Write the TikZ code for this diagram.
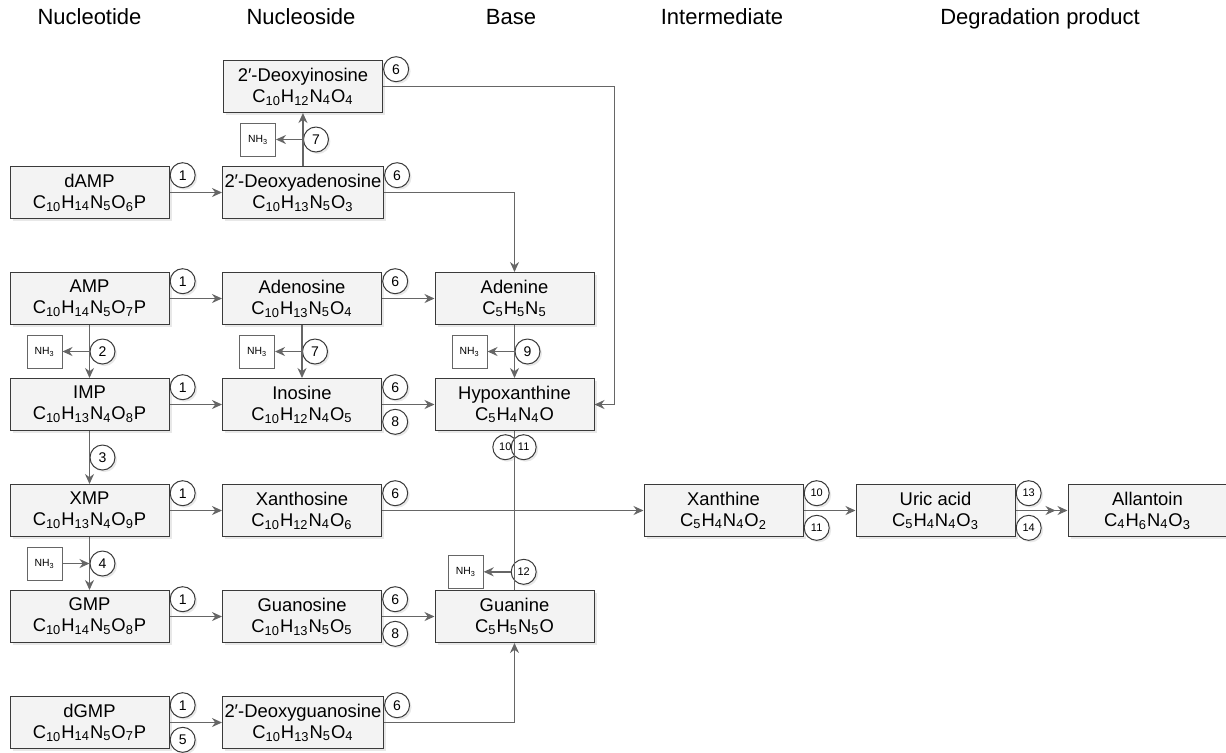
\documentclass[tikz,border=0pt]{standalone}
\usepackage{amsmath}
\usepackage{fontspec}
\setmainfont{Liberation Sans}
\usepackage{tikz}
\usetikzlibrary{arrows.meta,positioning,shadows,calc}
\definecolor{linegray}{HTML}{666666}
\definecolor{boxline}{HTML}{3A3A3A}
\definecolor{boxfill}{HTML}{F3F3F3}
\definecolor{shadegray}{HTML}{D2D2D2}
\newcommand{\sbs}[1]{\ensuremath{_{\text{#1}}}}
\tikzset{
    cmpd/.style={rectangle, draw=boxline, line width=0.5pt, fill=boxfill,
        minimum width=79.5pt, minimum height=26pt, inner sep=1pt, align=center,
        font=\fontsize{9.2}{10.5}\selectfont,
        drop shadow={shadow xshift=1.3pt, shadow yshift=-1.3pt, fill=shadegray}},
    enz/.style={circle, draw=boxline, line width=0.5pt, fill=white,
        minimum size=12.5pt, inner sep=0pt, font=\fontsize{7}{7}\selectfont,
        drop shadow={shadow xshift=1pt, shadow yshift=-1pt, fill=shadegray}},
    enzz/.style={enz, font=\fontsize{5.5}{6}\selectfont},
    nhbox/.style={rectangle, draw=linegray, line width=0.4pt, fill=white,
        minimum width=17.5pt, minimum height=16.5pt, inner sep=0pt,
        font=\fontsize{5.2}{6}\selectfont},
    head/.style={anchor=base, font=\fontsize{11}{13}\selectfont},
    flow/.style={-{Stealth[length=5pt,width=4.5pt]}, line width=0.75pt, draw=linegray},
    flowtwo/.style={-{Stealth[length=5pt,width=4.5pt,sep=1pt]Stealth[length=5pt,width=4.5pt]},
        line width=0.75pt, draw=linegray},
    link/.style={line width=0.75pt, draw=linegray}
}
\begin{document}
\begin{tikzpicture}[x=0.5pt, y=-0.5pt, node distance=26.5pt and 26.25pt]
        \useasboundingbox (0,0) rectangle (1226,752);
        \node[head] (hnt) at (89.5,24) {Nucleotide};
        \node[head] (hns) at (301,24) {Nucleoside};
        \node[head] (hbase) at (511,24) {Base};
        \node[head] (hint) at (722,24) {Intermediate};
        \node[head] (hdeg) at (1040,24) {Degradation product};
        \node[cmpd] (damp) at (89.5,192.5) {dAMP\\C\sbs{10}H\sbs{14}N\sbs{5}O\sbs{6}P};
        \node[cmpd,right=of damp] (dado) {2′-Deoxyadenosine\\C\sbs{10}H\sbs{13}N\sbs{5}O\sbs{3}};
        \node[cmpd,above=of dado] (dino) {2′-Deoxyinosine\\C\sbs{10}H\sbs{12}N\sbs{4}O\sbs{4}};
        \node[cmpd,below=of damp] (amp) {AMP\\C\sbs{10}H\sbs{14}N\sbs{5}O\sbs{7}P};
        \node[cmpd,right=of amp] (ado) {Adenosine\\C\sbs{10}H\sbs{13}N\sbs{5}O\sbs{4}};
        \node[cmpd,right=of ado] (ade) {Adenine\\C\sbs{5}H\sbs{5}N\sbs{5}};
        \node[cmpd,below=of amp] (imp) {IMP\\C\sbs{10}H\sbs{13}N\sbs{4}O\sbs{8}P};
        \node[cmpd,right=of imp] (ino) {Inosine\\C\sbs{10}H\sbs{12}N\sbs{4}O\sbs{5}};
        \node[cmpd,right=of ino] (hyp) {Hypoxanthine\\C\sbs{5}H\sbs{4}N\sbs{4}O};
        \node[cmpd,below=of imp] (xmp) {XMP\\C\sbs{10}H\sbs{13}N\sbs{4}O\sbs{9}P};
        \node[cmpd,right=of xmp] (xao) {Xanthosine\\C\sbs{10}H\sbs{12}N\sbs{4}O\sbs{6}};
        \node[cmpd,below=of xmp] (gmp) {GMP\\C\sbs{10}H\sbs{14}N\sbs{5}O\sbs{8}P};
        \node[cmpd,right=of gmp] (guo) {Guanosine\\C\sbs{10}H\sbs{13}N\sbs{5}O\sbs{5}};
        \node[cmpd,right=of guo] (gua) {Guanine\\C\sbs{5}H\sbs{5}N\sbs{5}O};
        \node[cmpd,below=of gmp] (dgmp) {dGMP\\C\sbs{10}H\sbs{14}N\sbs{5}O\sbs{7}P};
        \node[cmpd,right=of dgmp] (dguo) {2′-Deoxyguanosine\\C\sbs{10}H\sbs{13}N\sbs{5}O\sbs{4}};
        \node[cmpd,right=130.75pt of xao] (xan) {Xanthine\\C\sbs{5}H\sbs{4}N\sbs{4}O\sbs{2}};
        \node[cmpd,right=26pt of xan] (uric) {Uric acid\\C\sbs{5}H\sbs{4}N\sbs{4}O\sbs{3}};
        \node[cmpd,right=26pt of uric] (alla) {Allantoin\\C\sbs{4}H\sbs{6}N\sbs{4}O\sbs{3}};
        \node[enz,below right=0pt and 2pt of damp.north east] (e1d) {1};
        \node[enz,below right=0pt and 2pt of dino.north east] (e6di) {6};
        \node[enz,below right=0pt and 2pt of dado.north east] (e6da) {6};
        \node[enz,below right=0pt and 2pt of amp.north east] (e1a) {1};
        \node[enz,below right=0pt and 2pt of ado.north east] (e6a) {6};
        \node[enz,below right=0pt and 2pt of imp.north east] (e1i) {1};
        \node[enz,below right=0pt and 2pt of ino.north east] (e6i) {6};
        \node[enz,above right=0pt and 2pt of ino.south east] (e8i) {8};
        \node[enz,below right=0pt and 2pt of xmp.north east] (e1x) {1};
        \node[enz,below right=0pt and 2pt of xao.north east] (e6x) {6};
        \node[enz,below right=0pt and 2pt of gmp.north east] (e1g) {1};
        \node[enz,below right=0pt and 2pt of guo.north east] (e6g) {6};
        \node[enz,above right=0pt and 2pt of guo.south east] (e8g) {8};
        \node[enz,below right=0pt and 2pt of dgmp.north east] (e1dg) {1};
        \node[enz,above right=0pt and 2pt of dgmp.south east] (e5dg) {5};
        \node[enz,below right=0pt and 2pt of dguo.north east] (e6dg) {6};
        \node[enzz,below right=0pt and 2pt of xan.north east] (e10x) {10};
        \node[enzz,above right=0pt and 2pt of xan.south east] (e11x) {11};
        \node[enzz,below right=0pt and 2pt of uric.north east] (e13) {13};
        \node[enzz,above right=0pt and 2pt of uric.south east] (e14) {14};
        \node[enzz,below left=3.5pt and 0pt of hyp.south] (e10h) {10};
        \node[enzz,below right=3.5pt and 0pt of hyp.south] (e11h) {11};
        \node[enzz,above right=4.5pt and 0pt of gua.north] (e12) {12};
        \node[enz,anchor=west] (e7d) at ($(dado.north)!.5!(dino.south)$) {7};
        \node[enz,anchor=west] (e2) at ($(amp.south)!.5!(imp.north)$) {2};
        \node[enz,anchor=west] (e7) at ($(ado.south)!.5!(ino.north)$) {7};
        \node[enz,anchor=west] (e9) at ($(ade.south)!.5!(hyp.north)$) {9};
        \node[enz,anchor=west] (e3) at ($(imp.south)!.5!(xmp.north)$) {3};
        \node[enz,anchor=west] (e4) at ($(xmp.south)!.5!(gmp.north)$) {4};
        \node[nhbox,left=13.5pt of e7d] (nh7d) {NH\sbs{3}};
        \node[nhbox,left=13.5pt of e2] (nh2) {NH\sbs{3}};
        \node[nhbox,left=13.5pt of e7] (nh7) {NH\sbs{3}};
        \node[nhbox,left=13.5pt of e9] (nh9) {NH\sbs{3}};
        \node[nhbox,left=13.5pt of e4] (nh4) {NH\sbs{3}};
        \node[nhbox,left=13.5pt of e12] (nh12) {NH\sbs{3}};
        \draw[flow] (damp) -- (dado);
        \draw[flow] (dado) -- (dino);
        \draw[flow] (e7d.west) -- (nh7d);
        \draw[flow] (dino.east) -| ([xshift=10pt]hyp.east) -- (hyp.east);
        \draw[flow] (dado.east) -| (ade.north);
        \draw[flow] (amp) -- (ado);
        \draw[flow] (ado) -- (ade);
        \draw[flow] (amp) -- (imp);
        \draw[flow] (e2.west) -- (nh2);
        \draw[flow] (ado) -- (ino);
        \draw[flow] (e7.west) -- (nh7);
        \draw[flow] (ade) -- (hyp);
        \draw[flow] (e9.west) -- (nh9);
        \draw[flow] (imp) -- (ino);
        \draw[flow] (ino) -- (hyp);
        \draw[flow] (imp) -- (xmp);
        \draw[link] (hyp) -- (gua);
        \draw[flow] (e12.west) -- (nh12);
        \draw[flow] (xmp) -- (xao);
        \draw[flow] (xao) -- (xan);
        \draw[flow] (xmp) -- (gmp);
        \draw[flow] (nh4) -- (e4.west);
        \draw[flow] (gmp) -- (guo);
        \draw[flow] (guo) -- (gua);
        \draw[flow] (dgmp) -- (dguo);
        \draw[flow] (dguo.east) -| (gua.south);
        \draw[flow] (xan) -- (uric);
        \draw[flowtwo] (uric) -- (alla);
    \end{tikzpicture}
\end{document}
